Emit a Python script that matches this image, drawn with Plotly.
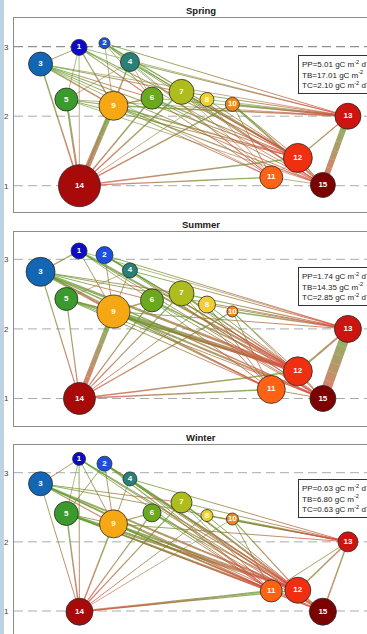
import plotly.graph_objects as go

# ---------------------------------------------------------------- data
seasons = ["Spring", "Summer", "Winter"]
node_labels = [str(i) for i in range(1, 16)]

# horizontal layout coordinate of each compartment (shared by all seasons)
node_x = [17.4, 24.2, 7.1, 31.0, 14.0, 36.9, 44.8, 51.6, 26.6, 58.4, 68.8, 75.9, 89.3, 17.5, 82.6]

# trophic level of each compartment per season
trophic_spring = [2.99, 3.05, 2.75, 2.78, 2.24, 2.26, 2.35, 2.24, 2.15, 2.17, 1.12, 1.40, 2.00, 1.00, 1.01]
trophic_summer = [3.12, 3.06, 2.82, 2.84, 2.43, 2.41, 2.51, 2.35, 2.25, 2.25, 1.13, 1.39, 2.00, 1.00, 1.00]
trophic_winter = [3.20, 3.13, 2.84, 2.91, 2.41, 2.42, 2.57, 2.38, 2.26, 2.33, 1.29, 1.30, 2.00, 0.99, 0.99]

# relative biomass of each compartment per season
biomass_spring = [2.56, 1.21, 5.76, 3.61, 5.29, 4.84, 6.25, 1.96, 8.41, 1.96, 5.29, 8.41, 6.76, 17.64, 6.25]
biomass_summer = [2.56, 2.89, 8.41, 2.25, 5.29, 5.29, 6.25, 2.89, 10.89, 1.21, 7.84, 8.41, 7.29, 10.24, 6.76]
biomass_winter = [1.69, 2.25, 5.76, 1.96, 5.76, 3.24, 4.41, 1.44, 7.84, 1.44, 4.84, 6.76, 4.00, 7.29, 7.29]

# trophic flows (from, to, relative magnitude)
flows_spring = [
    (1, 3, 1.0), (1, 9, 1.3), (1, 6, 1.1), (1, 14, 0.8), (1, 5, 0.8), (1, 12, 1.1), (1, 15, 0.9), (1, 13, 0.8),
    (2, 9, 0.8), (2, 4, 1.0), (2, 12, 1.3), (2, 13, 1.0), (2, 15, 1.0), (2, 11, 0.8), (2, 6, 0.9),
    (3, 14, 1.5), (3, 9, 1.5), (3, 6, 1.0), (3, 7, 1.0), (3, 12, 1.1), (3, 15, 1.0), (3, 13, 0.8), (3, 11, 0.8),
    (4, 9, 1.0), (4, 5, 0.8), (4, 12, 1.2), (4, 15, 1.0), (4, 13, 1.0), (4, 11, 0.8), (4, 6, 0.8),
    (5, 14, 2.0), (5, 9, 1.0), (5, 12, 1.0), (5, 13, 0.8), (5, 15, 0.8),
    (9, 14, 5.0), (9, 12, 1.5), (9, 15, 1.2), (9, 13, 1.5), (9, 11, 1.0), (6, 9, 1.6),
    (6, 14, 1.5), (6, 12, 1.2), (6, 15, 1.0), (6, 11, 1.0), (6, 13, 0.8),
    (7, 14, 1.5), (7, 12, 1.5), (7, 15, 1.0), (7, 13, 1.0), (7, 11, 0.8),
    (8, 14, 0.8), (8, 12, 1.0), (8, 13, 0.8), (8, 11, 0.8), (4, 14, 0.8),
    (10, 14, 1.5), (10, 12, 1.0), (10, 13, 1.8), (10, 11, 1.0), (10, 15, 2.0),
    (12, 14, 1.5), (11, 14, 1.3), (12, 13, 1.3), (13, 15, 6.0), (12, 15, 1.3), (11, 15, 0.8), (11, 12, 0.8),
]
flows_summer = [
    (1, 3, 1.3), (1, 9, 1.0), (1, 6, 0.9), (1, 12, 2.0), (1, 15, 1.0), (1, 13, 0.8),
    (2, 9, 1.0), (2, 12, 1.5), (2, 15, 1.0), (2, 13, 1.0), (2, 4, 0.8),
    (3, 9, 2.5), (3, 14, 1.2), (3, 12, 2.5), (3, 6, 1.0), (3, 7, 1.0), (3, 15, 1.5), (3, 13, 1.0), (3, 11, 1.0),
    (4, 9, 1.0), (4, 5, 0.8), (4, 12, 1.0), (4, 13, 1.0), (4, 15, 1.0),
    (5, 14, 1.2), (5, 9, 1.5), (5, 12, 2.0), (5, 15, 1.0), (5, 11, 1.0),
    (9, 14, 5.0), (9, 12, 4.0), (9, 15, 2.0), (9, 11, 1.5), (9, 13, 1.0), (6, 9, 1.5),
    (6, 14, 1.2), (6, 12, 1.5), (6, 11, 1.0), (6, 15, 1.0),
    (7, 14, 1.2), (7, 12, 1.5), (7, 15, 1.0), (7, 13, 1.2), (7, 11, 1.0),
    (8, 14, 1.0), (8, 12, 1.0), (8, 13, 1.0), (8, 11, 1.0),
    (10, 14, 1.2), (10, 13, 1.5), (10, 12, 1.0), (10, 11, 1.0), (10, 15, 1.0),
    (12, 14, 1.5), (11, 14, 1.5), (12, 13, 2.0), (13, 15, 10.0), (12, 15, 1.2), (11, 15, 1.0), (11, 12, 1.0),
]
flows_winter = [
    (1, 3, 1.0), (1, 9, 1.0), (1, 14, 1.0), (1, 5, 0.8), (1, 12, 1.2), (1, 11, 1.0), (1, 15, 1.0),
    (2, 9, 1.0), (2, 5, 1.0), (2, 12, 1.5), (2, 11, 1.2), (2, 15, 1.0), (2, 4, 1.0),
    (3, 14, 1.0), (3, 9, 1.2), (3, 12, 2.0), (3, 11, 1.5), (3, 13, 1.0), (3, 7, 1.0), (3, 15, 1.0),
    (4, 9, 1.0), (4, 12, 1.2), (4, 11, 1.0), (4, 13, 1.0), (4, 15, 1.0),
    (5, 14, 1.5), (5, 9, 1.0), (5, 12, 2.5), (5, 11, 2.0), (5, 15, 1.2),
    (9, 14, 1.5), (9, 12, 2.0), (9, 11, 1.5), (9, 15, 1.2), (9, 13, 1.0), (6, 9, 1.2),
    (6, 14, 1.2), (6, 12, 1.2), (6, 11, 1.0), (6, 15, 1.0),
    (7, 14, 1.2), (7, 12, 1.5), (7, 11, 1.0), (7, 13, 1.0), (7, 15, 1.0),
    (8, 14, 1.0), (8, 12, 1.0), (8, 13, 1.2),
    (10, 14, 0.8), (10, 12, 1.2), (10, 13, 1.5), (10, 11, 1.0),
    (11, 14, 2.0), (12, 14, 1.2), (12, 13, 1.5), (13, 15, 1.5), (12, 15, 1.2), (13, 11, 1.0),
]

# primary production, total biomass, total consumption per season
pp_values = [5.01, 1.74, 0.63]
tb_values = [17.01, 14.35, 6.80]
tc_values = [2.10, 2.85, 0.63]

trophic = [trophic_spring, trophic_summer, trophic_winter]
biomass = [biomass_spring, biomass_summer, biomass_winter]
flows = [flows_spring, flows_summer, flows_winter]

# ---------------------------------------------------------------- styling
W, H = 367, 634
FONT = "Liberation Sans, Arial, sans-serif"
node_colors = ["#0c0cc8", "#1c4fe0", "#1266b4", "#2a7f76", "#3a9a2c", "#6aa91c", "#aebd1c", "#f2cf2e",
               "#f6a714", "#f08818", "#ff6212", "#ef3010", "#cc1410", "#a80a0a", "#7c0202"]
GREEN = (86, 160, 40)
RED = (220, 74, 64)
N_SEG = 8

# panel frames in pixels: (top, bottom, y at level 3, y at level 1)
panel_px = [(18.0, 212.0, 46.7, 185.7), (232.0, 425.5, 259.3, 398.5), (445.0, 634.0, 472.7, 611.0)]
x_left_px = 14.0
x_span = 94.4  # axis units visible between the left frame and the page edge

fig = go.Figure()
layout = dict(
    width=W, height=H, margin=dict(l=0, r=0, t=0, b=0),
    paper_bgcolor="white", plot_bgcolor="white", showlegend=False,
    font=dict(family=FONT, size=8, color="#333"),
)
shapes, annotations = [], []


def mix(t):
    r = [round(GREEN[i] + (RED[i] - GREEN[i]) * t) for i in range(3)]
    return f"rgba({r[0]},{r[1]},{r[2]},0.74)"


for p in range(3):
    ax = "" if p == 0 else str(p + 1)
    xa, ya = "x" + ax, "y" + ax
    top, bot, y3, y1 = panel_px[p]
    ppu = (y1 - y3) / 2.0
    yr = [1 - (bot - y1) / ppu, 3 + (y3 - top) / ppu]
    ys = trophic[p]

    # flows, drawn as short pieces so the colour fades from green to red
    groups = {}
    for a, b, f in flows[p]:
        x0, y0 = node_x[a - 1], ys[a - 1]
        x1, y1v = node_x[b - 1], ys[b - 1]
        w = max(0.7, f)
        for k in range(N_SEG):
            t0, t1 = k / N_SEG, (k + 1) / N_SEG
            g = groups.setdefault((k, w), ([], []))
            g[0].extend([x0 + (x1 - x0) * t0, x0 + (x1 - x0) * t1, None])
            g[1].extend([y0 + (y1v - y0) * t0, y0 + (y1v - y0) * t1, None])
    for (k, w), (gx, gy) in sorted(groups.items(), key=lambda kv: (kv[0][1], kv[0][0])):
        fig.add_trace(go.Scatter(
            x=gx, y=gy, mode="lines", xaxis=xa, yaxis=ya, hoverinfo="skip",
            line=dict(color=mix((k + 0.5) / N_SEG), width=w),
        ))

    # compartments
    sizes = [10.0 * b ** 0.5 for b in biomass[p]]
    fig.add_trace(go.Scatter(
        x=node_x, y=ys, mode="markers+text", xaxis=xa, yaxis=ya,
        text=[f"<b>{s}</b>" for s in node_labels], textposition="middle center",
        textfont=dict(color="white", size=8, family=FONT),
        marker=dict(size=sizes, color=node_colors, line=dict(color="#2a2a2a", width=0.8), opacity=1),
        hoverinfo="skip",
    ))

    dom_y = [1 - bot / H, 1 - top / H]
    last = p == 2
    layout["xaxis" + ax] = dict(
        domain=[x_left_px / W, 1], range=[0, x_span], showgrid=False, zeroline=False,
        showticklabels=False, ticks="", showline=True, linecolor="#8c8c8c", linewidth=1,
        mirror=not last, side="top" if last else "bottom", anchor=ya, fixedrange=True,
    )
    layout["yaxis" + ax] = dict(
        domain=dom_y, range=yr, showgrid=False, zeroline=False, tickvals=[1, 2, 3],
        ticktext=["1", "2", "3"], ticks="", showline=True, linecolor="#8c8c8c", linewidth=1,
        tickfont=dict(size=8, color="#404040"), anchor=xa, ticklabelstandoff=3, fixedrange=True,
    )

    # dashed reference levels
    for lev in (1, 2, 3):
        shapes.append(dict(
            type="line", xref=xa + " domain", yref=ya, x0=0, x1=1, y0=lev, y1=lev, layer="below",
            line=dict(color="#777777" if (p == 0 and lev == 3) else "#ababab", width=1, dash="9px,5px"),
        ))

    # season title
    annotations.append(dict(
        text=f"<b>{seasons[p]}</b>", xref="paper", yref="paper", x=201 / W, y=1 - (top - 7.5) / H,
        showarrow=False, font=dict(size=9.5, color="#1a1a1a", family=FONT), xanchor="center", yanchor="middle",
    ))

    # summary box
    box_mid = [74.5, 286.7, 498.9][p]
    annotations.append(dict(
        text=(f"PP={pp_values[p]:.2f} gC m<sup>-2</sup> d<sup>-1</sup><br>"
              f"TB={tb_values[p]:.2f} gC m<sup>-2</sup><br>"
              f"TC={tc_values[p]:.2f} gC m<sup>-2</sup> d<sup>-1</sup>"),
        xref="paper", yref="paper", x=297.5 / W, y=1 - box_mid / H, xanchor="left", yanchor="middle",
        align="left", showarrow=False, font=dict(size=8, color="#222", family=FONT),
        bordercolor="#333333", borderwidth=1, borderpad=3, bgcolor="white",
    ))

# window frame strip on the left edge
shapes.append(dict(type="rect", xref="paper", yref="paper", x0=0, x1=4 / W, y0=0, y1=1,
                   fillcolor="#bfd2e2", line=dict(width=0), layer="above"))

layout["shapes"] = shapes
layout["annotations"] = annotations
fig.update_layout(**layout)
fig.write_html("out.html")
